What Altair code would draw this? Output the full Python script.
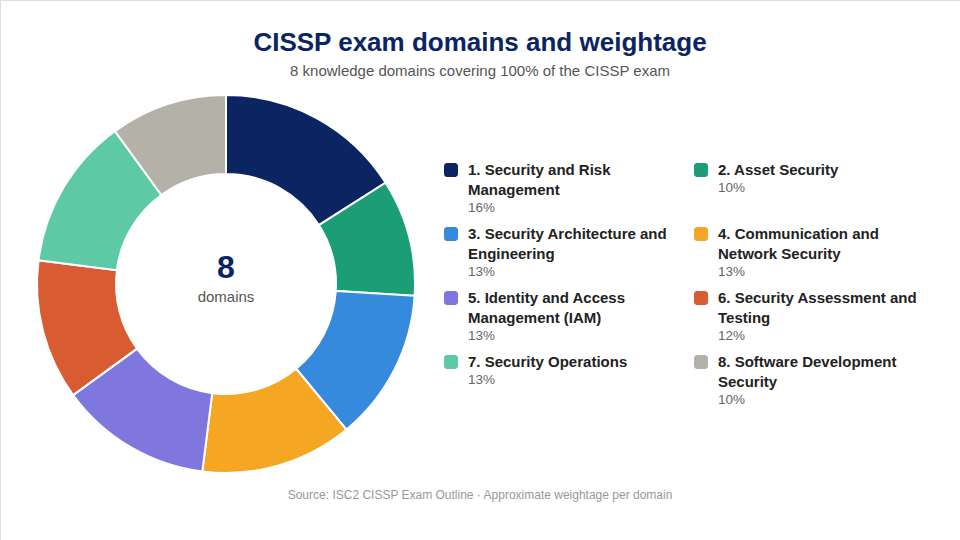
import altair as alt
import pandas as pd

# ---- data ----
domain_lines = [
    ["1. Security and Risk", "Management"],
    ["2. Asset Security"],
    ["3. Security Architecture and", "Engineering"],
    ["4. Communication and", "Network Security"],
    ["5. Identity and Access", "Management (IAM)"],
    ["6. Security Assessment and", "Testing"],
    ["7. Security Operations"],
    ["8. Software Development", "Security"],
]
weights = [16, 10, 13, 13, 13, 12, 13, 10]
colors = ["#0b2562", "#1b9e75", "#358ade", "#f5a623", "#7f77de", "#d95b32", "#5dc9a5", "#b4b1a9"]

title = "CISSP exam domains and weightage"
subtitle = "8 knowledge domains covering 100% of the CISSP exam"
center_value = "8"
center_label = "domains"
footer = "Source: ISC2 CISSP Exam Outline · Approximate weightage per domain"

FONT = "Liberation Sans"
names = [" ".join(l) for l in domain_lines]

# ---- tables ----
pie_df = pd.DataFrame({"idx": list(range(len(names))), "name": names, "weight": weights})

# legend layout (grid of 2 columns)
COL_X = [451, 701]
ROW_Y0, ROW_DY, LINE_DY = 170, 64, 20
sq_rows, line_rows, pct_rows = [], [], []
for i, (lines, w) in enumerate(zip(domain_lines, weights)):
    col, row = i % 2, i // 2
    x0 = COL_X[col]
    y0 = ROW_Y0 + row * ROW_DY
    sq_rows.append({"name": names[i], "x": x0 - 7, "x2": x0 + 7, "y": y0 - 7, "y2": y0 + 7})
    for k, t in enumerate(lines):
        line_rows.append({"text": t, "x": x0 + 17, "y": y0 + k * LINE_DY})
    pct_rows.append({"text": f"{w}%", "x": x0 + 17, "y": y0 + len(lines) * LINE_DY - 2})

sq_df = pd.DataFrame(sq_rows)
line_df = pd.DataFrame(line_rows)
pct_df = pd.DataFrame(pct_rows)

xs = alt.Scale(domain=[0, 960], range=[0, 960])
ys = alt.Scale(domain=[0, 540], range=[0, 540])
color_scale = alt.Scale(domain=names, range=colors)

donut = alt.Chart(pie_df).mark_arc(
    innerRadius=110, outerRadius=189, stroke="white", strokeWidth=2
).encode(
    theta=alt.Theta("weight:Q", stack=True),
    order=alt.Order("idx:Q"),
    color=alt.Color("name:N", scale=color_scale, legend=None),
    x=alt.value(226),
    y=alt.value(284),
)

squares = alt.Chart(sq_df).mark_rect(cornerRadius=3).encode(
    x=alt.X("x:Q", scale=xs, axis=None),
    x2="x2:Q",
    y=alt.Y("y:Q", scale=ys, axis=None),
    y2="y2:Q",
    color=alt.Color("name:N", scale=color_scale, legend=None),
)

labels = alt.Chart(line_df).mark_text(
    align="left", baseline="middle", font=FONT, fontSize=15, fontWeight="bold", color="#222222"
).encode(
    x=alt.X("x:Q", scale=xs, axis=None),
    y=alt.Y("y:Q", scale=ys, axis=None),
    text="text:N",
)

pcts = alt.Chart(pct_df).mark_text(
    align="left", baseline="middle", font=FONT, fontSize=13.5, color="#666666"
).encode(
    x=alt.X("x:Q", scale=xs, axis=None),
    y=alt.Y("y:Q", scale=ys, axis=None),
    text="text:N",
)

def txt(s, x, y, size, color, weight="normal"):
    return alt.Chart(pd.DataFrame({"t": [s]})).mark_text(
        align="center", baseline="middle", font=FONT, fontSize=size, fontWeight=weight, color=color
    ).encode(text="t:N", x=alt.value(x), y=alt.value(y))

chart = alt.layer(
    donut,
    squares,
    labels,
    pcts,
    txt(title, 480, 43, 26, "#0b2562", "bold"),
    txt(subtitle, 480, 71, 15, "#555555"),
    txt(center_value, 226, 268, 32, "#0b2562", "bold"),
    txt(center_label, 226, 297, 15, "#555555"),
    txt(footer, 480, 495, 12, "#999999"),
).properties(
    width=960, height=540, padding=0, autosize=alt.AutoSizeParams(type="none")
).configure_view(stroke=None).configure(background="white")

chart.save("out.html", embed_options={"renderer": "svg", "actions": False})
